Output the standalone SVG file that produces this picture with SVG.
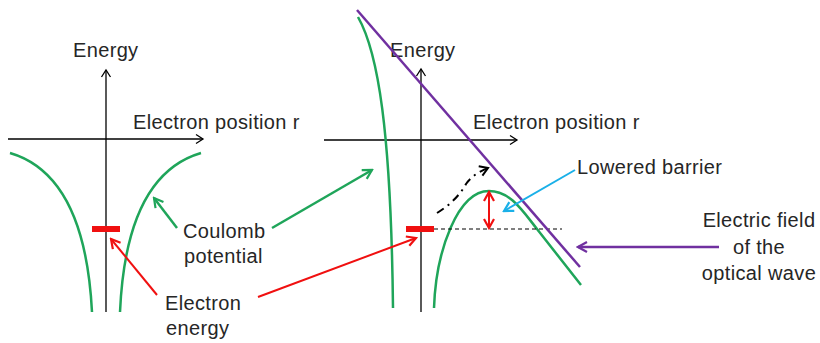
<svg xmlns="http://www.w3.org/2000/svg" width="820" height="343" viewBox="0 0 820 343">
<style>
  text { font-family: "Liberation Sans", Arial, sans-serif; font-size: 20px; letter-spacing: 0.35px; fill: #262626; }
  .axis { stroke: #000; stroke-width: 1.3; fill: none; }
  .green { stroke: #1fa55a; stroke-width: 2.5; fill: none; }
  .purple { stroke: #7030a0; stroke-width: 2.5; fill: none; }
  .red { stroke: #f01010; stroke-width: 2; fill: none; }
  .blue { stroke: #1ab0e8; stroke-width: 2; fill: none; }
  .bar { fill: #f01010; }
</style>
<defs>
  <marker id="ax" markerUnits="userSpaceOnUse" markerWidth="12" markerHeight="12" refX="10" refY="6" orient="auto"><path d="M3,1.5 L10,6 L3,10.5" fill="none" stroke="#000" stroke-width="1.3"/></marker>
  <marker id="mg" markerUnits="userSpaceOnUse" markerWidth="14" markerHeight="14" refX="12" refY="7" orient="auto"><path d="M3,2 L12,7 L3,12" fill="none" stroke="#1fa55a" stroke-width="2.2"/></marker>
  <marker id="mr" markerUnits="userSpaceOnUse" markerWidth="14" markerHeight="14" refX="12" refY="7" orient="auto-start-reverse"><path d="M3,2 L12,7 L3,12" fill="none" stroke="#f01010" stroke-width="2.2"/></marker>
  <marker id="mb" markerUnits="userSpaceOnUse" markerWidth="14" markerHeight="14" refX="12" refY="7" orient="auto"><path d="M3,2 L12,7 L3,12" fill="none" stroke="#1ab0e8" stroke-width="2.2"/></marker>
  <marker id="mp" markerUnits="userSpaceOnUse" markerWidth="14" markerHeight="14" refX="12" refY="7" orient="auto"><path d="M3,2 L12,7 L3,12" fill="none" stroke="#7030a0" stroke-width="2.2"/></marker>
  <marker id="mk" markerUnits="userSpaceOnUse" markerWidth="14" markerHeight="14" refX="11" refY="7" orient="auto"><path d="M3,2 L11,7 L3,12" fill="none" stroke="#000" stroke-width="2"/></marker>
</defs>

<g id="left-diagram">
  <line class="axis" x1="8" y1="139" x2="203" y2="139" marker-end="url(#ax)"/>
  <line class="axis" x1="106" y1="312" x2="106" y2="70" marker-end="url(#ax)"/>
  <text x="73" y="57">Energy</text>
  <text x="133" y="129">Electron position r</text>
  <path class="green" d="M10,153 Q85,175 92,312"/>
  <path class="green" d="M201,153 Q126,175 120,312"/>
  <rect class="bar" x="92" y="226" width="28" height="6"/>
</g>

<g id="right-diagram">
  <line class="axis" x1="324" y1="140" x2="517" y2="140" marker-end="url(#ax)"/>
  <line class="axis" x1="421" y1="312" x2="421" y2="69" marker-end="url(#ax)"/>
  <text x="390" y="57">Energy</text>
  <text x="473" y="129">Electron position r</text>
  <path class="green" d="M358,17 C378,52 391,130 393,308"/>
  <path class="green" d="M434,308 C436,250 458,191 489,191 C510,191 522,210 537,229 L581,285"/>
  <rect class="bar" x="406" y="226" width="28" height="6"/>
  <line x1="434" y1="229" x2="562" y2="229" stroke="#000" stroke-width="1" stroke-dasharray="4,3"/>
  <line class="purple" x1="357" y1="10" x2="580" y2="267"/>
</g>

<g id="label-coulomb">
  <text x="183" y="238">Coulomb</text>
  <text x="184" y="263">potential</text>
</g>
<g id="label-electron-energy">
  <text x="165" y="310">Electron</text>
  <text x="166" y="335">energy</text>
</g>
<g id="label-lowered-barrier">
  <text x="577" y="174">Lowered barrier</text>
</g>
<g id="label-electric-field">
  <text x="759" y="227" text-anchor="middle">Electric field</text>
  <text x="759" y="254" text-anchor="middle">of the</text>
  <text x="759" y="280" text-anchor="middle">optical wave</text>
</g>

<g id="connectors">
  <line class="green" x1="177" y1="228" x2="154" y2="198" marker-end="url(#mg)"/>
  <line class="green" x1="272" y1="228" x2="372" y2="170" marker-end="url(#mg)"/>
  <line class="red" x1="157" y1="295" x2="111" y2="239" marker-end="url(#mr)"/>
  <line class="red" x1="258" y1="297" x2="416" y2="238" marker-end="url(#mr)"/>
  <line class="red" x1="489" y1="192" x2="489" y2="228" marker-start="url(#mr)" marker-end="url(#mr)"/>
  <line class="blue" x1="575" y1="170" x2="504" y2="211" marker-end="url(#mb)"/>
  <line class="purple" x1="719" y1="247" x2="578" y2="247" marker-end="url(#mp)"/>
  <path d="M437,213 C450,205 460,195 466,184 C471,177 478,172 488,168" fill="none" stroke="#000" stroke-width="2" stroke-dasharray="8,5,2,5" marker-end="url(#mk)"/>
</g>
</svg>
